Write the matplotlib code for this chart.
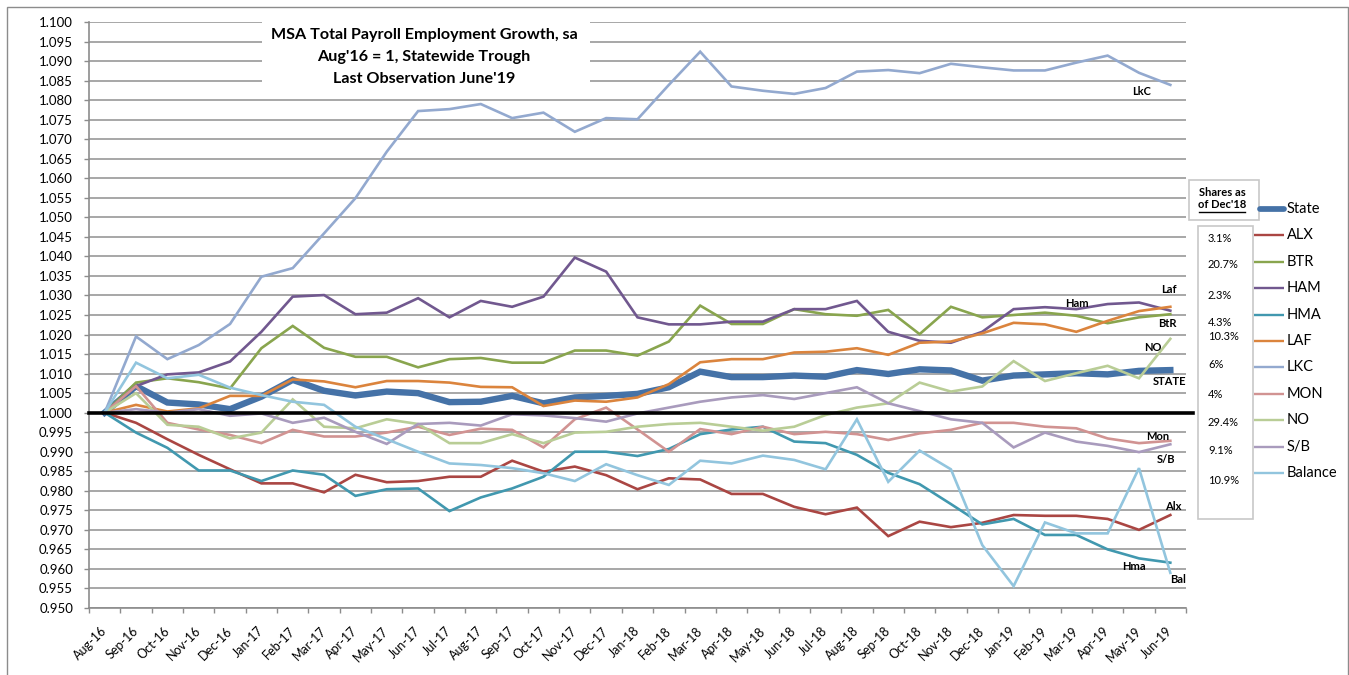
import numpy as np
import matplotlib
matplotlib.use("Agg")
import matplotlib.pyplot as plt
from matplotlib.lines import Line2D
from matplotlib.patches import Rectangle
from matplotlib.ticker import MultipleLocator, FixedLocator, FuncFormatter

plt.rcParams["font.family"] = ["Lato", "DejaVu Sans"]

# ── Data ──────────────────────────────────────────────────────────────────────
months = ["Aug-16", "Sep-16", "Oct-16", "Nov-16", "Dec-16", "Jan-17", "Feb-17", "Mar-17",
          "Apr-17", "May-17", "Jun-17", "Jul-17", "Aug-17", "Sep-17", "Oct-17", "Nov-17",
          "Dec-17", "Jan-18", "Feb-18", "Mar-18", "Apr-18", "May-18", "Jun-18", "Jul-18",
          "Aug-18", "Sep-18", "Oct-18", "Nov-18", "Dec-18", "Jan-19", "Feb-19", "Mar-19",
          "Apr-19", "May-19", "Jun-19"]

state = [1.000, 1.0068, 1.0026, 1.0021, 1.0009, 1.0041, 1.0084, 1.0056, 1.0044, 1.0054,
         1.0050, 1.0027, 1.0028, 1.0043, 1.0024, 1.0039, 1.0043, 1.0048, 1.0065, 1.0105,
         1.0091, 1.0091, 1.0095, 1.0092, 1.0109, 1.0099, 1.0111, 1.0108, 1.0082, 1.0095,
         1.0098, 1.0101, 1.0098, 1.0107, 1.0109]
alx = [1.000, 0.9974, 0.9932, 0.9892, 0.9855, 0.9819, 0.9819, 0.9796, 0.9841, 0.9822,
       0.9825, 0.9836, 0.9836, 0.9877, 0.9849, 0.9862, 0.9840, 0.9804, 0.9832, 0.9829,
       0.9792, 0.9792, 0.9759, 0.9740, 0.9757, 0.9684, 0.9721, 0.9707, 0.9718, 0.9738,
       0.9736, 0.9736, 0.9728, 0.9700, 0.9738]
btr = [1.000, 1.0077, 1.0088, 1.0078, 1.0062, 1.0165, 1.0222, 1.0166, 1.0143, 1.0143,
       1.0116, 1.0137, 1.0140, 1.0128, 1.0128, 1.0159, 1.0159, 1.0146, 1.0182, 1.0274,
       1.0227, 1.0227, 1.0265, 1.0252, 1.0248, 1.0263, 1.0201, 1.0271, 1.0244, 1.0250,
       1.0256, 1.0248, 1.0229, 1.0244, 1.0252]
ham = [1.000, 1.0068, 1.0098, 1.0103, 1.0131, 1.0207, 1.0297, 1.0301, 1.0252, 1.0256,
       1.0293, 1.0244, 1.0286, 1.0271, 1.0297, 1.0397, 1.0361, 1.0244, 1.0226, 1.0226,
       1.0233, 1.0233, 1.0265, 1.0265, 1.0286, 1.0207, 1.0184, 1.0179, 1.0207, 1.0265,
       1.0270, 1.0265, 1.0278, 1.0282, 1.0261]
hma = [1.000, 0.9949, 0.9910, 0.9852, 0.9852, 0.9825, 0.9852, 0.9841, 0.9787, 0.9804,
       0.9806, 0.9748, 0.9783, 0.9806, 0.9836, 0.9900, 0.9900, 0.9889, 0.9907, 0.9945,
       0.9957, 0.9964, 0.9926, 0.9922, 0.9892, 0.9846, 0.9817, 0.9766, 0.9714, 0.9728,
       0.9687, 0.9687, 0.9650, 0.9627, 0.9616]
laf = [1.000, 1.0020, 1.0003, 1.0011, 1.0043, 1.0043, 1.0085, 1.0080, 1.0065, 1.0081,
       1.0081, 1.0077, 1.0066, 1.0065, 1.0017, 1.0031, 1.0028, 1.0039, 1.0073, 1.0129,
       1.0137, 1.0137, 1.0154, 1.0156, 1.0165, 1.0148, 1.0179, 1.0182, 1.0203, 1.0230,
       1.0226, 1.0207, 1.0235, 1.0260, 1.0271]
lkc = [1.000, 1.0195, 1.0137, 1.0173, 1.0227, 1.0348, 1.0370, 1.0459, 1.0549, 1.0668,
       1.0772, 1.0777, 1.0790, 1.0754, 1.0768, 1.0719, 1.0754, 1.0751, 1.0839, 1.0924,
       1.0835, 1.0824, 1.0816, 1.0831, 1.0873, 1.0877, 1.0869, 1.0893, 1.0884, 1.0876,
       1.0876, 1.0896, 1.0914, 1.0870, 1.0839]
mon = [1.000, 1.0068, 0.9974, 0.9957, 0.9943, 0.9922, 0.9956, 0.9939, 0.9939, 0.9949,
       0.9964, 0.9943, 0.9959, 0.9956, 0.9911, 0.9983, 1.0013, 0.9957, 0.9900, 0.9958,
       0.9945, 0.9964, 0.9945, 0.9951, 0.9945, 0.9930, 0.9947, 0.9956, 0.9974, 0.9974,
       0.9964, 0.9960, 0.9934, 0.9922, 0.9928]
no = [1.000, 1.0050, 0.9969, 0.9964, 0.9934, 0.9949, 1.0034, 0.9964, 0.9960, 0.9983,
      0.9971, 0.9922, 0.9922, 0.9945, 0.9922, 0.9949, 0.9951, 0.9964, 0.9971, 0.9974,
      0.9964, 0.9954, 0.9964, 0.9994, 1.0013, 1.0024, 1.0077, 1.0054, 1.0067, 1.0132,
      1.0081, 1.0101, 1.0120, 1.0088, 1.0189]
sb = [1.000, 1.0009, 1.0000, 1.0009, 0.9992, 0.9998, 0.9974, 0.9987, 0.9951, 0.9920,
      0.9971, 0.9974, 0.9967, 0.9996, 0.9993, 0.9986, 0.9977, 0.9998, 1.0013, 1.0028,
      1.0039, 1.0045, 1.0035, 1.0050, 1.0065, 1.0024, 1.0004, 0.9983, 0.9974, 0.9911,
      0.9949, 0.9926, 0.9915, 0.9899, 0.9919]
balance = [1.000, 1.0128, 1.0088, 1.0097, 1.0064, 1.0045, 1.0028, 1.0020, 0.9964, 0.9932,
           0.9900, 0.9870, 0.9866, 0.9858, 0.9845, 0.9825, 0.9868, 0.9840, 0.9815, 0.9877,
           0.9870, 0.9890, 0.9879, 0.9855, 0.9983, 0.9823, 0.9903, 0.9855, 0.9661, 0.9556,
           0.9719, 0.9691, 0.9691, 0.9858, 0.9590]

names = ["State", "ALX", "BTR", "HAM", "HMA", "LAF", "LKC", "MON", "NO", "S/B", "Balance"]
series = [state, alx, btr, ham, hma, laf, lkc, mon, no, sb, balance]
shares = ["3.1%", "20.7%", "2.3%", "4.3%", "10.3%", "6%", "4%", "29.4%", "9.1%", "10.9%"]

# end-of-line tags inside the plot
tags = ["LkC", "Laf", "Ham", "BtR", "NO", "STATE", "Mon", "S/B", "Alx", "Hma", "Bal"]

# ── Style ─────────────────────────────────────────────────────────────────────
colors = ["#4572A7", "#AA4643", "#89A54E", "#71588F", "#4198AF", "#DB843D",
          "#93A9CF", "#D19392", "#B9CD96", "#A99BBD", "#92C5DE"]
widths = [4.6] + [1.9] * 10
tag_pos = [(33.09, 1.0821), (33.95, 1.0314), (31.01, 1.0280), (33.89, 1.0227),
           (33.44, 1.0166), (33.98, 1.0079), (33.60, 0.9940), (33.86, 0.9881),
           (34.10, 0.9761), (32.83, 0.9607), (34.24, 0.9574)]

W, H = 1349, 675
fig = plt.figure(figsize=(W / 100, H / 100), dpi=100)
ax = fig.add_axes([89 / W, 1 - 608 / H, (1186 - 89) / W, (608 - 22) / H])

x = np.arange(len(months))
for vals, c, lw in zip(series, colors, widths):
    ax.plot(x, vals, color=c, lw=lw, solid_joinstyle="miter", zorder=3)

# baseline at 1.000
ax.plot([-0.5, 34.72], [1.0, 1.0], color="black", lw=2.6, zorder=4, clip_on=False)

ax.set_xlim(-0.5, len(months) - 0.5)
ax.set_ylim(0.950, 1.100)

grey = "#8C8C8C"
ax.yaxis.set_major_locator(MultipleLocator(0.005))
ax.yaxis.set_major_formatter(FuncFormatter(lambda v, _: f"{v:.3f}"))
ax.grid(axis="y", color="#A0A0A0", lw=1.3)
ax.set_axisbelow(True)

ax.xaxis.set_major_locator(FixedLocator(x))
ax.xaxis.set_minor_locator(FixedLocator(np.arange(len(months) + 1) - 0.5))
ax.set_xticklabels(months, rotation=45, ha="right", va="center", rotation_mode="anchor")
ax.tick_params(axis="x", which="major", length=0, pad=15, labelsize=9, colors="black")
ax.tick_params(axis="x", which="minor", length=3.5, color=grey, width=1)
ax.tick_params(axis="y", length=3.5, color=grey, width=1, labelsize=9.5, pad=8)

for s in ["top", "right"]:
    ax.spines[s].set_visible(False)
for s in ["left", "bottom"]:
    ax.spines[s].set_color(grey)
    ax.spines[s].set_linewidth(1.2)

# white title box covering the grid
ax.add_patch(Rectangle((0.158, 0.875), 0.299, 0.13, transform=ax.transAxes,
                       facecolor="white", edgecolor="none", zorder=1, clip_on=False))
title_lines = ["MSA Total Payroll Employment Growth, sa",
               "Aug'16 = 1, Statewide Trough",
               "Last Observation June'19"]
for i, t in enumerate(title_lines):
    fig.text(424 / W, 1 - (35 + 22 * i) / H, t, ha="center", va="center",
             fontsize=11.6, fontweight="bold")

for t, (tx, ty) in zip(tags, tag_pos):
    ax.text(tx, ty, t, ha="center", va="center", fontsize=8, fontweight="bold",
            zorder=5)

# ── Legend (drawn by hand, like the Excel layout) ────────────────────────────
leg_y = [209 + 26.4 * i for i in range(len(names))]
for i, (n, c, lw) in enumerate(zip(names, colors, widths)):
    y = 1 - leg_y[i] / H
    x0 = 1260 if i == 0 else 1254
    fig.add_artist(Line2D([x0 / W, 1284 / W], [y, y], color=c, lw=lw * 0.9,
                          solid_capstyle="round" if i == 0 else "butt"))
    fig.text(1287 / W, y, n, ha="left", va="center", fontsize=10.5)

# "Shares as of Dec'18" header box
fig.add_artist(Rectangle((1189 / W, 1 - 220 / H), 70 / W, 40 / H, transform=fig.transFigure,
                         facecolor="white", edgecolor="#C8C8C8", lw=1.2))
fig.text(1222 / W, 1 - 193 / H, "Shares as", ha="center", va="center",
         fontsize=8, fontweight="bold")
fig.text(1222 / W, 1 - 205 / H, "of Dec'18", ha="center", va="center",
         fontsize=8, fontweight="bold")
fig.add_artist(Line2D([1199 / W, 1245 / W], [1 - 212 / H, 1 - 212 / H], color="black", lw=1))

# share percentages box
fig.add_artist(Rectangle((1198 / W, 1 - 519 / H), 55 / W, 293 / H, transform=fig.transFigure,
                         facecolor="white", edgecolor="#C8C8C8", lw=1.2))
share_y = [238, 265, 295, 322, 337, 365, 394, 422, 451, 480]
for s, py in zip(shares, share_y):
    fig.text(1208 / W, 1 - py / H, s, ha="left", va="center", fontsize=8)

# outer chart frame
fig.add_artist(Rectangle((7 / W, -0.02), 1341 / W, 1.02 - 7 / H, transform=fig.transFigure,
                         facecolor="none", edgecolor="#8C8C8C", lw=1))

fig.savefig("out.png", dpi=100)
